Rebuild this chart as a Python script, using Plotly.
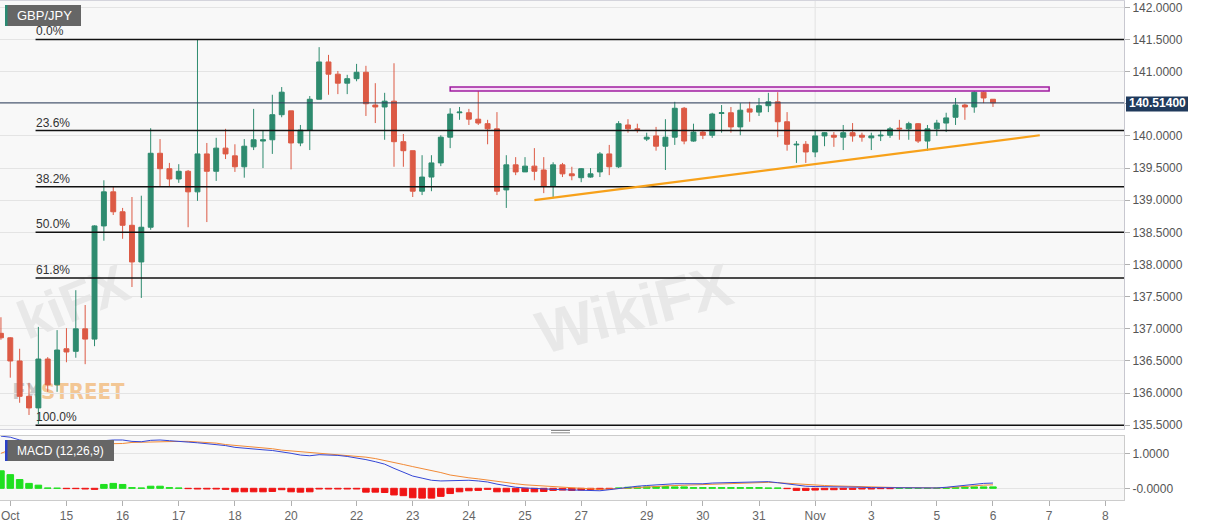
import plotly.graph_objects as go

# ---------------- data (4-hour candles, GBP/JPY) ----------------
opens = [136.93,136.86,136.50,135.95,135.77,136.53,136.13,136.69,136.65,137.00,
         136.84,138.60,139.13,138.82,138.61,138.04,138.58,139.73,139.49,139.33,
         139.45,139.13,139.72,139.45,139.81,139.69,139.52,139.83,139.92,139.94,
         140.33,140.39,139.89,140.09,140.57,141.15,140.96,140.82,140.89,140.99,
         140.48,140.45,140.54,139.91,139.77,139.14,139.36,139.58,139.98,140.36,
         140.36,140.26,140.19,140.11,139.16,139.55,139.44,139.53,139.47,139.22,
         139.55,139.41,139.35,139.36,139.44,139.72,139.52,140.17,140.11,139.95,
         140.00,139.84,139.98,140.43,139.92,140.06,140.01,140.35,140.36,140.14,
         140.42,140.37,140.47,140.53,140.22,139.86,139.87,139.75,140.00,140.01,
         139.98,140.05,140.01,139.97,140.00,140.01,140.12,140.11,140.19,139.92,
         140.11,140.20,140.29,140.48,140.45,140.68,140.57]
highs = [137.18,136.87,136.69,136.16,137.03,136.56,136.98,137.01,137.60,137.37,
         138.61,139.31,139.21,138.88,139.05,139.07,140.12,139.95,139.58,139.56,
         139.47,141.50,139.89,139.97,140.11,139.87,139.95,140.42,140.09,140.64,
         140.76,140.39,140.17,140.62,141.38,141.26,141.01,140.95,141.12,141.09,
         140.82,140.67,141.13,140.03,139.77,139.70,139.70,140.01,140.43,140.45,
         140.42,140.71,140.25,140.37,139.70,139.67,139.67,139.81,139.67,139.59,
         139.58,139.52,139.50,139.50,139.75,139.86,140.23,140.26,140.19,140.05,
         140.14,140.26,140.53,140.45,140.19,140.08,140.36,140.48,140.45,140.51,
         140.53,140.59,140.67,140.68,140.37,139.92,139.92,140.09,140.06,140.06,
         140.17,140.20,140.05,140.05,140.09,140.14,140.25,140.22,140.20,140.17,
         140.25,140.36,140.59,140.50,140.71,140.71,140.57]
lows = [136.83,136.24,135.85,135.66,135.52,136.02,136.02,136.48,136.55,136.45,
        136.73,138.37,138.77,138.40,137.65,137.48,138.54,139.21,139.21,139.27,
        138.58,138.99,138.66,139.30,139.64,139.44,139.35,139.78,139.50,139.72,
        140.29,139.48,139.84,139.78,140.57,140.64,140.65,140.65,140.85,140.31,
        140.20,139.94,139.52,139.52,139.05,139.08,139.14,139.53,139.81,140.25,
        140.17,140.17,139.87,139.08,138.88,139.39,139.44,139.31,139.11,139.03,
        139.36,139.31,139.28,139.35,139.36,139.39,139.50,140.05,140.05,139.92,
        139.77,139.47,139.86,139.87,139.91,139.95,139.97,140.05,140.05,140.01,
        140.22,140.31,140.37,139.98,139.77,139.58,139.58,139.67,139.84,139.83,
        139.78,139.91,139.91,139.78,139.92,139.97,139.94,139.94,139.89,139.77,
        140.00,140.06,140.17,140.25,140.36,140.51,140.45]
closes = [136.86,136.50,135.95,135.77,136.53,136.13,136.67,136.64,137.00,136.84,
          138.60,139.13,138.82,138.61,138.04,138.58,139.73,139.49,139.33,139.45,
          139.13,139.72,139.45,139.81,139.72,139.52,139.84,139.94,139.94,140.33,
          140.68,139.89,140.09,140.57,141.15,140.96,140.82,140.89,140.99,140.50,
          140.45,140.54,139.91,139.77,139.14,139.36,139.58,139.98,140.34,140.37,
          140.26,140.20,140.11,139.14,139.55,139.44,139.53,139.45,139.22,139.55,
          139.41,139.38,139.49,139.41,139.72,139.52,140.19,140.11,140.10,139.98,
          139.84,139.98,140.43,139.92,140.06,140.01,140.34,140.36,140.14,140.40,
          140.37,140.47,140.53,140.22,139.87,139.87,139.75,140.00,140.05,139.98,
          140.05,140.00,139.98,140.00,140.01,140.11,140.11,140.19,139.92,140.11,
          140.20,140.28,140.48,140.45,140.68,140.59,140.514]

macd_line = [1.49,1.46,1.38,1.33,1.30,1.28,1.25,1.26,1.27,1.27,
             1.31,1.36,1.38,1.38,1.34,1.33,1.37,1.38,1.36,1.35,
             1.32,1.30,1.28,1.25,1.22,1.17,1.14,1.12,1.10,1.08,
             1.05,1.00,0.95,0.93,0.96,0.96,0.94,0.91,0.87,0.82,
             0.76,0.69,0.57,0.47,0.35,0.29,0.23,0.21,0.22,0.23,
             0.23,0.21,0.18,0.12,0.07,0.03,0.01,-0.01,-0.02,-0.03,
             -0.04,-0.05,-0.06,-0.07,-0.07,-0.04,0.00,0.03,0.06,0.08,
             0.10,0.12,0.13,0.13,0.12,0.13,0.15,0.16,0.17,0.18,
             0.19,0.20,0.19,0.16,0.12,0.08,0.06,0.05,0.05,0.04,
             0.04,0.03,0.03,0.02,0.02,0.01,0.01,0.00,0.00,0.00,
             0.01,0.03,0.06,0.09,0.12,0.14,0.15]
signal_line = [1.00,1.10,1.16,1.20,1.22,1.24,1.25,1.26,1.27,1.28,
               1.29,1.27,1.27,1.28,1.31,1.32,1.33,1.33,1.34,1.34,
               1.34,1.33,1.32,1.29,1.25,1.23,1.21,1.18,1.16,1.13,
               1.09,1.07,1.05,1.03,0.99,0.98,0.96,0.94,0.91,0.89,
               0.85,0.80,0.74,0.68,0.62,0.57,0.51,0.45,0.38,0.33,
               0.30,0.27,0.23,0.21,0.17,0.13,0.10,0.08,0.06,0.04,
               0.02,0.01,0.00,-0.01,-0.03,-0.02,-0.01,0.00,0.02,0.03,
               0.05,0.07,0.08,0.09,0.10,0.11,0.12,0.13,0.14,0.15,
               0.16,0.17,0.17,0.16,0.14,0.12,0.10,0.09,0.08,0.07,
               0.06,0.05,0.05,0.04,0.03,0.02,0.02,0.02,0.01,0.01,
               0.01,0.02,0.03,0.05,0.07,0.09,0.10]
macd_hist = [0.50,0.39,0.25,0.14,0.09,0.01,0.005,-0.01,-0.01,-0.02,
             -0.03,0.11,0.14,0.11,0.02,0.01,0.06,0.06,0.02,0.01,
             -0.01,-0.02,-0.02,-0.02,-0.03,-0.10,-0.10,-0.10,-0.10,-0.09,
             -0.04,-0.10,-0.11,-0.10,-0.02,-0.02,-0.02,-0.02,-0.02,-0.11,
             -0.11,-0.12,-0.19,-0.21,-0.27,-0.28,-0.28,-0.23,-0.15,-0.10,
             -0.07,-0.06,-0.03,-0.10,-0.10,-0.10,-0.09,-0.10,-0.09,-0.06,
             -0.05,-0.06,-0.05,-0.04,-0.03,-0.02,0.01,0.03,0.04,0.04,
             0.05,0.05,0.04,0.04,0.02,0.02,0.02,0.02,0.02,0.02,
             0.02,0.02,0.01,0.01,-0.01,-0.06,-0.06,-0.05,-0.04,-0.04,
             -0.03,-0.03,-0.02,-0.02,-0.01,-0.01,0.005,0.005,0.0,0.0,
             0.005,0.01,0.02,0.03,0.04,0.04,0.04]

day_labels = ["Oct", "15", "16", "17", "18", "20", "22", "23", "24", "25",
              "27", "29", "30", "31", "Nov", "3", "5", "6", "7", "8"]
day_start = [1, 7, 13, 19, 25, 31, 38, 44, 50, 56, 62, 69, 75, 81, 87, 93, 100, 106, 112, 118]
month_start = 87

price_ticks = [135.5, 136.0, 136.5, 137.0, 137.5, 138.0, 138.5, 139.0,
               139.5, 140.0, 140.5, 141.0, 141.5, 142.0]
macd_ticks = [0.0, 1.0]
macd_tick_text = ["-0.0000", "1.0000"]

fib_labels = ["0.0%", "23.6%", "38.2%", "50.0%", "61.8%", "100.0%"]
fib_levels = [141.50, 140.084, 139.208, 138.50, 137.792, 135.50]
fib_anchor = 4          # swing-low candle where the retracement starts

trend_idx = [57, 111]
trend_price = [139.00, 140.01]
zone_idx = [48, 112]
zone_price = [140.70, 140.76]

last_price = closes[-1]
idx = list(range(len(closes)))

# ---------------- figure ----------------
GREEN = "#2e8b6f"
RED = "#dc5a45"

fig = go.Figure()
fig.add_trace(go.Candlestick(
    x=idx, open=opens, high=highs, low=lows, close=closes,
    increasing=dict(line=dict(color=GREEN, width=1), fillcolor=GREEN),
    decreasing=dict(line=dict(color=RED, width=1), fillcolor=RED),
    whiskerwidth=0, xaxis="x", yaxis="y", showlegend=False, hoverinfo="skip"))

bar_colors = ["#1fe01f" if v >= 0 else "#f01414" for v in macd_hist]
fig.add_trace(go.Bar(
    x=idx, y=macd_hist, width=0.7, marker=dict(color=bar_colors, line=dict(color=bar_colors, width=1)),
    xaxis="x2", yaxis="y2", showlegend=False, hoverinfo="skip"))
fig.add_trace(go.Scatter(x=idx, y=signal_line, mode="lines", line=dict(color="#f28a36", width=1),
                         xaxis="x2", yaxis="y2", showlegend=False, hoverinfo="skip"))
fig.add_trace(go.Scatter(x=idx, y=macd_line, mode="lines", line=dict(color="#3446d6", width=1),
                         xaxis="x2", yaxis="y2", showlegend=False, hoverinfo="skip"))

# plot area geometry: x 0..1124 px, y 1..500 px
W_PLOT = 1124.0
def px(xp):
    return xp / W_PLOT
def py(yp):
    return (500.0 - yp) / 499.0

shapes = []
annotations = []

# watermarks (behind candles)
shapes.append(dict(type="rect", xref="x", yref="y", x0=53, x1=82, y0=136.7, y1=138.1,
                   line=dict(width=0), fillcolor="rgba(0,0,0,0)", layer="below",
                   label=dict(text="<b>WikiFX</b>", textangle=-15,
                              font=dict(size=60, color="rgba(190,190,190,0.28)", family="Liberation Sans"))))
shapes.append(dict(type="rect", xref="x", yref="y", x0=0.5, x1=14.5, y0=136.8, y1=138.2,
                   line=dict(width=0), fillcolor="rgba(0,0,0,0)", layer="below",
                   label=dict(text="<b>kiFX</b>", textangle=-22,
                              font=dict(size=54, color="rgba(190,190,190,0.28)", family="Liberation Sans"))))
shapes.append(dict(type="rect", xref="x", yref="y", x0=1.0, x1=13.4, y0=135.78, y1=136.32,
                   line=dict(width=0), fillcolor="rgba(0,0,0,0)", layer="below",
                   label=dict(text="<b><span style='color:rgba(150,150,150,0.6)'>FX</span>"
                                   "<span style='color:rgba(240,170,90,0.8)'>STREET</span></b>",
                              font=dict(size=22, color="rgba(240,170,90,0.8)",
                                        family="Liberation Sans Narrow, DejaVu Sans Condensed, Liberation Sans"))))

# month gridline
shapes.append(dict(type="line", xref="x", yref="y domain", x0=month_start, x1=month_start, y0=0, y1=1,
                   line=dict(color="#e2e2e2", width=1), layer="below"))
shapes.append(dict(type="line", xref="x2", yref="y2 domain", x0=month_start, x1=month_start, y0=0, y1=1,
                   line=dict(color="#e2e2e2", width=1), layer="below"))

# fibonacci retracement
for lab, lev in zip(fib_labels, fib_levels):
    shapes.append(dict(type="line", xref="x", yref="y", x0=fib_anchor - 0.3, x1=120, y0=lev, y1=lev,
                       line=dict(color="#111111", width=1.5), layer="above"))
    annotations.append(dict(x=fib_anchor - 0.3, y=lev, xref="x", yref="y", text=lab, showarrow=False,
                            xanchor="left", yanchor="bottom", xshift=-2, yshift=-1,
                            font=dict(size=12, color="#333333", family="Liberation Sans")))

# resistance zone
shapes.append(dict(type="rect", xref="x", yref="y", x0=zone_idx[0], x1=zone_idx[1],
                   y0=zone_price[0], y1=zone_price[1], line=dict(color="#a01ca0", width=1.5),
                   fillcolor="#f6dcf6", layer="above"))
# rising trend line
shapes.append(dict(type="line", xref="x", yref="y", x0=trend_idx[0], x1=trend_idx[1],
                   y0=trend_price[0], y1=trend_price[1], line=dict(color="#f7a11a", width=2.2),
                   layer="above"))
# last price line
shapes.append(dict(type="line", xref="paper", yref="y", x0=0, x1=1, y0=last_price, y1=last_price,
                   line=dict(color="#2c3e5c", width=1), layer="above"))
# last price label
shapes.append(dict(type="rect", xref="paper", yref="paper", x0=px(1126), x1=px(1188),
                   y0=py(111.5), y1=py(96.5), line=dict(width=0), fillcolor="#203a5c", layer="above"))
annotations.append(dict(x=px(1157), y=last_price, xref="paper", yref="y", text="<b>%.5f</b>" % last_price,
                        showarrow=False, xanchor="center", yanchor="middle",
                        font=dict(size=12, color="white", family="Liberation Sans")))

# symbol label
shapes.append(dict(type="rect", xref="paper", yref="paper", x0=px(5), x1=px(81), y0=py(26), y1=py(5),
                   line=dict(width=0), fillcolor="#666666", layer="above"))
shapes.append(dict(type="rect", xref="paper", yref="paper", x0=px(5), x1=px(7.5), y0=py(26), y1=py(5),
                   line=dict(width=0), fillcolor="#2a8a72", layer="above"))
annotations.append(dict(x=px(44), y=py(15.5), xref="paper", yref="paper", text="GBP/JPY", showarrow=False,
                        xanchor="center", yanchor="middle",
                        font=dict(size=13, color="white", family="Liberation Sans")))

# MACD label
shapes.append(dict(type="rect", xref="paper", yref="paper", x0=px(5), x1=px(114), y0=py(461), y1=py(440),
                   line=dict(width=0), fillcolor="#666666", layer="above"))
shapes.append(dict(type="rect", xref="paper", yref="paper", x0=px(5), x1=px(7.5), y0=py(461), y1=py(440),
                   line=dict(width=0), fillcolor="#2a40c8", layer="above"))
annotations.append(dict(x=px(60), y=py(450.5), xref="paper", yref="paper", text="MACD (12,26,9)",
                        showarrow=False, xanchor="center", yanchor="middle",
                        font=dict(size=12, color="white", family="Liberation Sans")))

# pane separator handle
for yy in (430.5, 432.8):
    shapes.append(dict(type="line", xref="paper", yref="paper", x0=px(551), x1=px(570), y0=py(yy), y1=py(yy),
                       line=dict(color="#8a8a8a", width=1), layer="above"))

main_bottom = py(429)
macd_top = py(436)

# the 140.5 label sits under the last-price tag in the reference
price_tick_text = ["" if abs(v - 140.5) < 1e-9 else "%.4f" % v for v in price_ticks]

fig.update_layout(
    width=1207, height=526,
    margin=dict(l=0, r=83, t=1, b=26),
    paper_bgcolor="white", plot_bgcolor="#f8f8f8",
    showlegend=False, boxgap=0.25, bargap=0.3,
    font=dict(family="Liberation Sans", size=12, color="#555555"),
    xaxis=dict(domain=[0, 1], anchor="y", range=[-0.1, 120.0], showticklabels=False, showgrid=False,
               zeroline=False, showline=True, linecolor="#d4d4dc", mirror=True, ticks="",
               rangeslider=dict(visible=False)),
    xaxis2=dict(domain=[0, 1], anchor="y2", matches="x", range=[-0.1, 120.0],
                tickmode="array", tickvals=day_start, ticktext=day_labels,
                ticks="outside", ticklen=5, tickcolor="#b0b0b0", showgrid=False, zeroline=False,
                showline=True, linecolor="#cccccc", mirror=True,
                tickfont=dict(size=12, color="#666666"), rangeslider=dict(visible=False)),
    yaxis=dict(domain=[main_bottom, 1], anchor="x", side="right", range=[135.442, 142.098],
               tickmode="array", tickvals=price_ticks, ticktext=price_tick_text,
               ticks="outside", ticklen=5, tickcolor="#b0b0b0", showgrid=True, gridcolor="#e4e4e4",
               zeroline=False, showline=True, linecolor="#c8c8d0", mirror=True,
               tickfont=dict(size=12, color="#555555")),
    yaxis2=dict(domain=[0, macd_top], anchor="x2", side="right", range=[-0.334, 1.494],
                tickmode="array", tickvals=macd_ticks, ticktext=macd_tick_text,
                ticks="outside", ticklen=5, tickcolor="#b0b0b0", showgrid=True, gridcolor="#e4e4e4",
                zeroline=False, showline=True, linecolor="#cccccc", mirror=True,
                tickfont=dict(size=12, color="#555555")),
    shapes=shapes, annotations=annotations,
)

fig.write_html("out.html", config={"displayModeBar": False},
               post_script="document.body.style.margin='0px';document.body.style.overflow='hidden';")
